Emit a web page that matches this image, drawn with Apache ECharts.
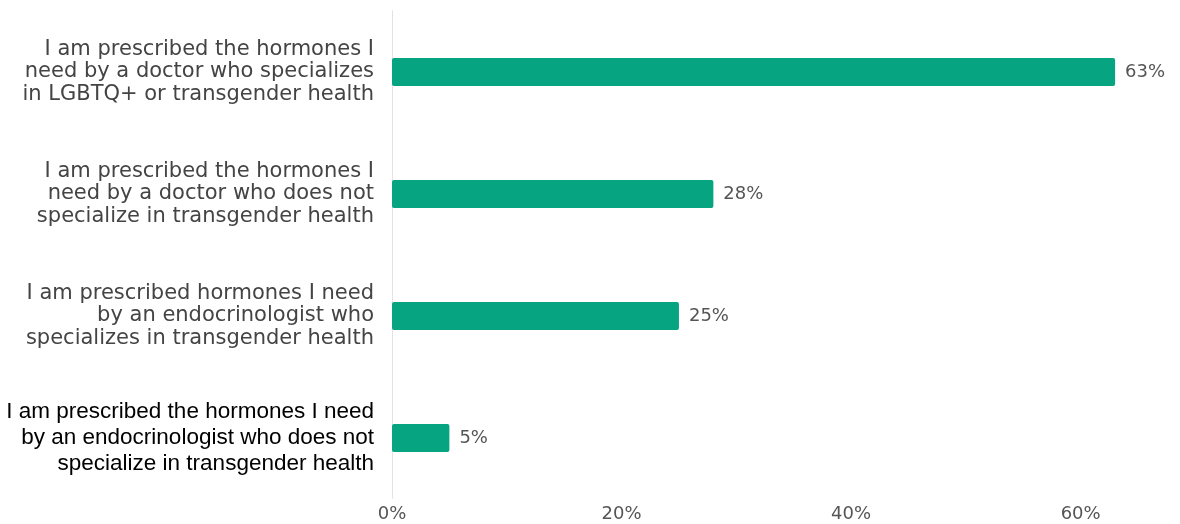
<!DOCTYPE html>
<html>
<head>
<meta charset="utf-8">
<script src="https://cdn.jsdelivr.net/npm/echarts@6/dist/echarts.min.js"></script>
<style>
html,body{margin:0;padding:0;background:#fff;}
#chart{width:1180px;height:524px;}
</style>
</head>
<body>
<div id="chart"></div>
<script>
const categories = [
  "I am prescribed the hormones I\nneed by a doctor who specializes\nin LGBTQ+ or transgender health",
  "I am prescribed the hormones I\nneed by a doctor who does not\nspecialize in transgender health",
  "I am prescribed hormones I need\nby an endocrinologist who\nspecializes in transgender health",
  "I am prescribed the hormones I need\nby an endocrinologist who does not\nspecialize in transgender health"
];
const values = [63, 28, 25, 5];
const xTicks = [0, 20, 40, 60];

const chart = echarts.init(document.getElementById('chart'));
chart.setOption({
  animation: false,
  grid: {left: 392, right: 19, top: 11, bottom: 25, containLabel: false},
  xAxis: {
    type: 'value', min: 0, max: 67, interval: 20,
    axisLine: {show: false}, axisTick: {show: false}, splitLine: {show: false},
    axisLabel: {
      showMaxLabel: false, margin: 6,
      color: '#555', fontSize: 18, fontFamily: 'DejaVu Sans',
      formatter: v => xTicks.includes(v) ? v + '%' : ''
    }
  },
  yAxis: {
    type: 'category', inverse: true, data: categories,
    axisLine: {show: true, lineStyle: {color: '#ddd', type: 'dotted', width: 1}},
    axisTick: {show: false},
    axisLabel: {
      margin: 18,
      formatter: (v, i) => i === categories.length - 1 ? '{b|' + v.split('\n').join('}\n{b|') + '}' : '{g|' + v.split('\n').join('}\n{g|') + '}',
      rich: {
        g: {color: '#444', fontSize: 21, lineHeight: 22.5, fontFamily: 'DejaVu Sans', align: 'right'},
        b: {color: '#000', fontSize: 22.5, lineHeight: 26, fontFamily: 'Liberation Sans', align: 'right'}
      }
    }
  },
  series: [{
    type: 'bar', data: values, barWidth: 28,
    itemStyle: {color: '#06a480', borderRadius: 2},
    label: {show: true, position: 'right', distance: 10, color: '#555', fontSize: 18, fontFamily: 'DejaVu Sans', formatter: p => p.value + '%'}
  }]
});
</script>
</body>
</html>
